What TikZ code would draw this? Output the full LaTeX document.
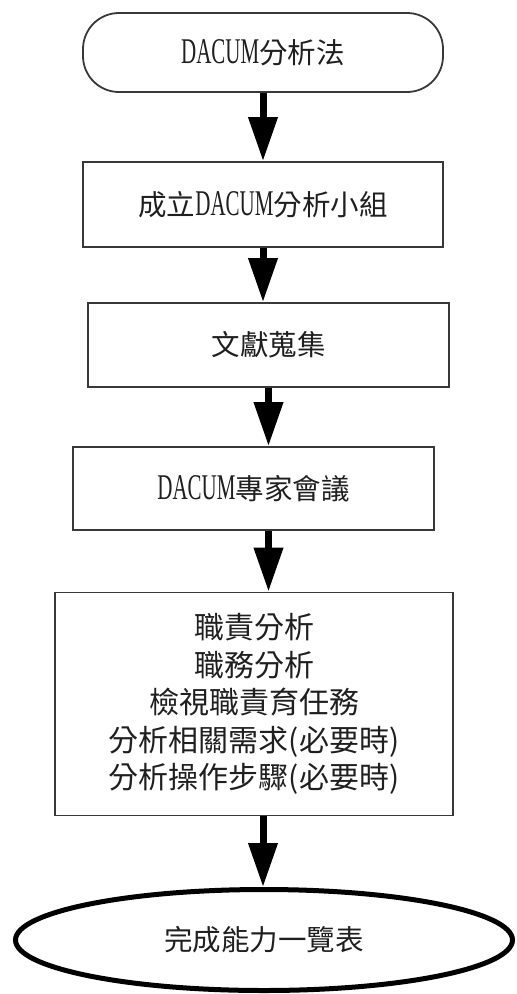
\documentclass[tikz,border=0pt]{standalone}
\usepackage{fontspec}
\usetikzlibrary{arrows.meta,shapes.geometric}
\setmainfont{Noto Sans CJK TC}
\newfontfamily\latf[Scale=1.27,FakeStretch=0.58]{Liberation Serif}
\begin{document}
\begin{tikzpicture}[x=1pt,y=-1pt,
  box/.style={draw=black!78, line width=1.8pt, inner sep=0pt,
    font=\fontsize{28.5}{37.5}\selectfont, text=black!88},
  arr/.style={line width=7pt, draw=black, -{Triangle[width=28pt,length=44pt]}}]
\useasboundingbox (0,0) rectangle (517,994);
\node[box, rounded corners=36pt, minimum width=360pt, minimum height=79pt] (n1) at (263,52.5) {{\latf DACUM}分析法};
\node[box, minimum width=360pt, minimum height=85pt] (n2) at (263,204.5) {成立{\latf DACUM}分析小組};
\node[box, minimum width=361pt, minimum height=84pt] (n3) at (268.5,345) {文獻蒐集};
\node[box, minimum width=361pt, minimum height=83pt] (n4) at (253.5,488.5) {{\latf DACUM}專家會議};
\node[box, minimum width=398pt, minimum height=223pt, align=center, font=\fontsize{30}{37.5}\selectfont] (n5) at (254,704)
  {職責分析\\職務分析\\檢視職責育任務\\分析相關需求(必要時)\\分析操作步驟(必要時)};
\node[box, ellipse, draw=black, line width=5pt, minimum width=497pt, minimum height=101pt] (n6) at (264,940) {完成能力一覽表};
\draw[arr] (n1.south) -- (n2.north);
\draw[arr] (n2.south) -- (n2.south |- n3.north);
\draw[arr] (n3.south) -- (n4.north -| n3.south);
\draw[arr] (n4.south -| n3.south) -- (n5.north -| n3.south);
\draw[arr] (n5.south -| n1.south) -- (n6.north -| n1.south);
\end{tikzpicture}
\end{document}
